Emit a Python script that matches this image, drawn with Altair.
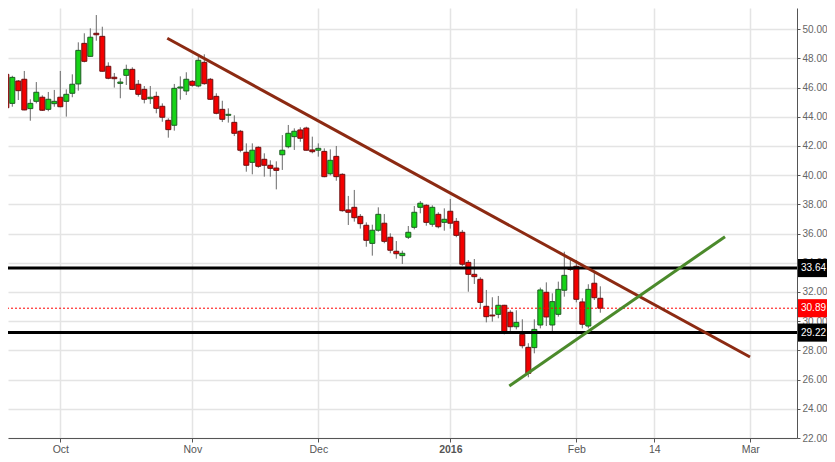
import altair as alt
import pandas as pd

# ---- daily candles (trading-day index 0..100) ----
opens = [47.09, 46.91, 44.92, 46.45, 46.57, 44.56, 45.06, 45.34, 44.51, 44.90,
         45.34, 45.06, 45.61, 46.25, 49.03, 48.14, 49.72, 49.51, 47.46, 46.71,
         46.29, 46.84, 47.25, 46.23, 45.88, 45.24, 45.40, 44.72, 43.76, 43.42,
         45.97, 45.77, 46.43, 46.11, 47.73, 46.57, 45.40, 44.51, 44.10, 43.62,
         43.01, 41.57, 40.88, 41.91, 41.09, 40.68, 40.49, 41.40, 41.95, 42.64,
         43.10, 43.23, 41.73, 41.71, 41.63, 40.10, 41.29, 40.06, 37.62, 37.80,
         37.18, 36.57, 35.33, 36.23, 36.71, 35.75, 34.79, 34.49, 35.75, 36.43,
         37.80, 37.94, 36.64, 37.32, 36.77, 37.53, 36.84, 36.09, 34.03, 33.21,
         32.87, 31.02, 30.42, 30.47, 31.09, 30.61, 29.62, 29.10, 28.21, 28.19,
         29.74, 31.98, 29.74, 30.47, 32.12, 33.62, 33.76, 31.32, 29.67, 32.60,
         31.57]
highs = [47.77, 46.95, 46.81, 46.52, 47.14, 45.20, 46.38, 45.47, 45.70, 45.84,
         47.14, 45.88, 46.91, 49.10, 49.72, 50.06, 50.97, 50.17, 47.73, 47.00,
         46.64, 47.57, 47.39, 46.52, 46.11, 46.11, 45.72, 44.92, 43.90, 46.25,
         46.77, 47.05, 46.52, 48.12, 48.28, 46.66, 45.61, 45.10, 44.58, 44.10,
         43.10, 42.18, 42.18, 41.98, 41.50, 41.02, 40.95, 42.75, 43.44, 43.21,
         43.28, 43.32, 42.64, 42.18, 41.84, 41.77, 42.00, 40.13, 38.58, 38.99,
         37.34, 36.77, 36.61, 37.80, 37.34, 36.02, 35.49, 34.83, 36.52, 37.89,
         38.23, 38.01, 37.94, 37.46, 37.73, 38.37, 37.07, 36.25, 34.19, 34.26,
         33.01, 32.14, 31.64, 31.73, 31.12, 30.75, 30.75, 30.13, 28.49, 30.13,
         32.30, 32.66, 31.91, 32.71, 34.76, 34.30, 34.19, 31.57, 32.53, 33.39,
         32.39]
lows = [46.40, 44.28, 44.69, 45.15, 44.45, 43.73, 44.92, 44.40, 44.38, 44.69,
        44.65, 44.01, 45.34, 45.79, 47.73, 48.12, 49.21, 47.10, 46.57, 46.00,
        45.27, 46.18, 45.86, 45.38, 44.92, 44.88, 44.24, 43.66, 42.57, 43.05,
        45.17, 45.49, 46.06, 46.02, 46.20, 45.15, 44.17, 43.64, 43.60, 42.68,
        41.57, 40.24, 40.06, 40.51, 39.90, 39.90, 39.03, 40.36, 41.84, 41.73,
        42.29, 41.69, 41.50, 41.27, 39.86, 39.99, 39.62, 37.50, 36.59, 36.82,
        36.34, 35.10, 34.49, 36.13, 35.34, 34.65, 34.28, 33.92, 35.63, 36.29,
        37.39, 36.54, 36.47, 36.36, 36.20, 36.34, 35.75, 33.78, 32.02, 32.55,
        30.88, 29.92, 29.97, 30.20, 29.10, 29.28, 29.44, 28.14, 26.16, 27.80,
        29.51, 29.67, 29.24, 30.31, 31.68, 33.45, 31.29, 29.51, 29.51, 31.45,
        30.58]
closes = [46.91, 44.62, 46.70, 45.79, 44.47, 44.92, 45.68, 44.45, 45.20, 45.06,
          44.69, 45.54, 46.23, 48.55, 47.80, 49.45, 49.62, 47.12, 46.64, 46.61,
          46.38, 47.25, 45.88, 45.54, 45.20, 45.34, 44.58, 43.97, 43.12, 45.95,
          46.04, 46.57, 46.16, 47.87, 46.27, 45.20, 44.24, 43.83, 44.17, 42.87,
          41.71, 40.68, 41.71, 40.61, 40.68, 40.47, 40.33, 41.71, 42.87, 43.01,
          42.53, 41.71, 41.61, 41.84, 39.90, 41.02, 39.90, 37.57, 37.46, 37.09,
          36.68, 35.54, 36.23, 37.32, 35.47, 34.86, 34.62, 34.65, 36.09, 37.46,
          38.08, 36.77, 37.80, 36.47, 36.98, 36.71, 35.88, 33.90, 33.21, 33.05,
          31.29, 30.31, 30.36, 31.09, 29.28, 29.62, 29.92, 28.32, 26.43, 29.44,
          32.14, 30.29, 31.34, 32.18, 33.14, 33.55, 31.50, 29.79, 32.18, 31.61,
          30.89]

# ---- x-axis ticks (trading-day index positions) ----
tick_pos = [10, 32, 53, 75, 96, 109, 125]
tick_labels = ["Oct", "Nov", "Dec", "2016", "Feb", "14", "Mar"]
bold_tick = 75

# ---- y-axis ticks ----
price_ticks = [22, 24, 26, 28, 30, 32, 34, 36, 38, 40, 42, 44, 46, 48, 50]

# ---- levels ----
level_values = [33.64, 29.22]
last_price = 30.89

# ---- trend lines (index, price) ----
down_x = [27.83, 124.95]
down_y = [49.38, 27.55]
up_x = [84.83, 120.78]
up_y = [25.56, 35.79]

# ---------------------------------------------------------------
df = pd.DataFrame({"i": list(range(len(opens))), "open": opens, "high": highs,
                   "low": lows, "close": closes})
df["dir"] = ["up" if c >= o else "down" for o, c in zip(opens, closes)]

FONT = "Liberation Sans"
XMIN, XMAX = 1.283, 132.78
YMIN, YMAX = 22.0, 51.452
W, H = 789, 430

xs = alt.Scale(domain=[XMIN, XMAX], nice=False, zero=False, padding=0)
ys = alt.Scale(domain=[YMIN, YMAX], nice=False, zero=False, padding=0)

label_expr = " : ".join(f"datum.value == {p} ? '{l}'" for p, l in zip(tick_pos, tick_labels)) + " : ''"

x_axis = alt.Axis(values=tick_pos, labelExpr=label_expr, title=None, grid=True,
                  gridColor="#e4e4e4", gridWidth=1.5, domainColor="#555", tickColor="#555",
                  tickSize=4, labelColor="#555", labelFontSize=10.5, labelFont=FONT,
                  labelPadding=2, labelOverlap=False,
                  labelFontWeight={"condition": {"test": f"datum.value == {bold_tick}", "value": "bold"},
                                   "value": "normal"})
y_axis = alt.Axis(orient="right", values=price_ticks, format=".2f", title=None,
                  grid=True, gridColor="#e4e4e4", gridWidth=1.5, domainColor="#555",
                  tickColor="#555", tickSize=3, labelColor="#666", labelFontSize=10,
                  labelFont=FONT, labelPadding=2, labelOverlap=False)

X = lambda f: alt.X(f, scale=xs, axis=x_axis)
Y = lambda f: alt.Y(f, scale=ys, axis=y_axis)

base = alt.Chart(df)

wicks = base.mark_rule(color="#6a6a6a", strokeWidth=1, clip=True).encode(
    x=X("i:Q"), y=Y("low:Q"), y2="high:Q",
)

dir_scale_fill = alt.Scale(domain=["up", "down"], range=["#17d317", "#f40000"])
dir_scale_stroke = alt.Scale(domain=["up", "down"], range=["#1f5a24", "#6a0f0f"])

bodies = base.mark_bar(size=5, strokeWidth=1, clip=True).encode(
    x=X("i:Q"), y=Y("open:Q"), y2="close:Q",
    fill=alt.Fill("dir:N", scale=dir_scale_fill, legend=None),
    stroke=alt.Stroke("dir:N", scale=dir_scale_stroke, legend=None),
)

levels_df = pd.DataFrame({"price": level_values})
levels = alt.Chart(levels_df).mark_rule(color="black", strokeWidth=3).encode(y=Y("price:Q"))

last_df = pd.DataFrame({"price": [last_price]})
last_line = alt.Chart(last_df).mark_rule(color="#ff0000", strokeWidth=1, strokeDash=[2, 2]).encode(
    y=Y("price:Q"))

trend_df = pd.DataFrame({
    "x": down_x + up_x,
    "y": down_y + up_y,
    "line": ["down"] * 2 + ["up"] * 2,
})
trends = alt.Chart(trend_df).mark_line(strokeWidth=3, clip=True).encode(
    x=X("x:Q"), y=Y("y:Q"),
    color=alt.Color("line:N", scale=alt.Scale(domain=["down", "up"], range=["#8c2a12", "#4b8a2b"]),
                    legend=None),
    detail="line:N",
)

tags_df = pd.DataFrame({
    "price": level_values + [last_price],
    "kind": ["level", "level", "last"],
})
tags_df["lo"] = tags_df["price"] - 0.62
tags_df["hi"] = tags_df["price"] + 0.62
tags_df["label"] = [f"{p:.2f}" for p in tags_df["price"]]

tag_boxes = alt.Chart(tags_df).mark_rect().encode(
    x=alt.value(W + 1), x2=alt.value(W + 31),
    y=Y("lo:Q"), y2="hi:Q",
    fill=alt.Fill("kind:N", scale=alt.Scale(domain=["level", "last"], range=["#000000", "#ff0000"]),
                  legend=None),
)
tag_text = alt.Chart(tags_df).mark_text(align="left", baseline="middle", color="white",
                                        fontSize=10, font=FONT).encode(
    x=alt.value(W + 4),
    y=Y("price:Q"),
    text="label:N",
)

chart = alt.layer(wicks, bodies, levels, last_line, trends, tag_boxes, tag_text).resolve_scale(
    fill="independent", color="independent", stroke="independent"
).properties(
    width=W, height=H, background="white",
    autosize=alt.AutoSizeParams(type="none"),
    padding={"left": 0, "top": 0, "right": 30, "bottom": 16},
).configure_view(stroke=None)

chart.save("out.html", embed_options={"renderer": "svg", "actions": False})
